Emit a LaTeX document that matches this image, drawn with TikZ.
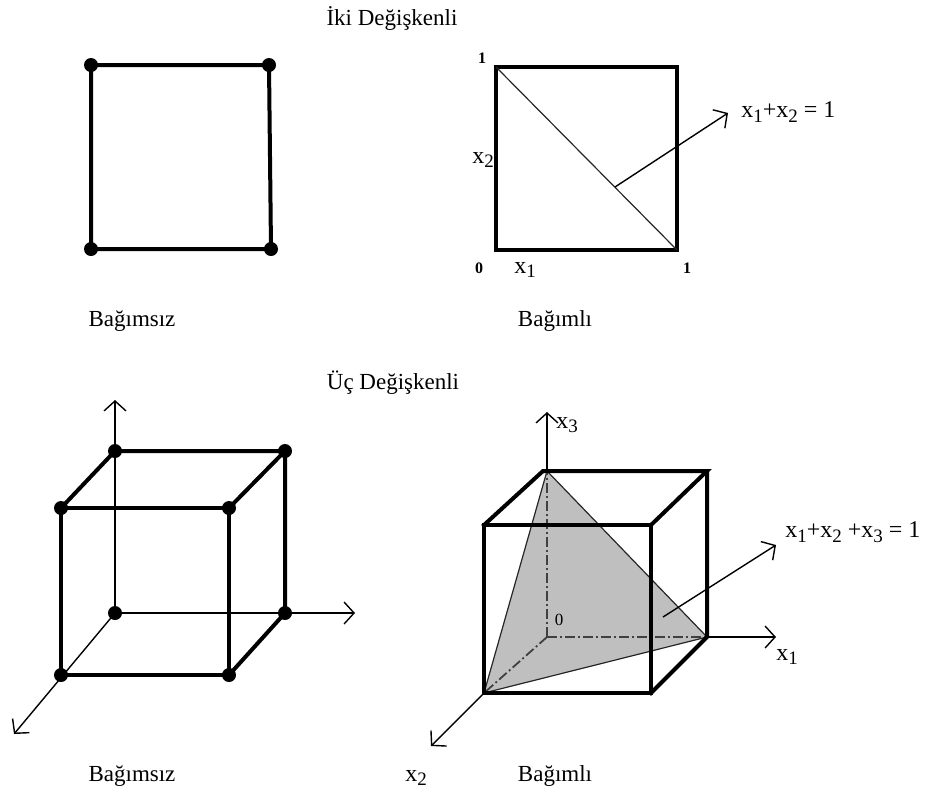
\documentclass[tikz,border=0pt]{standalone}
\usepackage{fontspec}
\setmainfont{Liberation Serif}
\usetikzlibrary{arrows.meta}
\newcommand\sbx[1]{\raisebox{-0.4ex}{\fontsize{9.5}{10}\selectfont #1}}
\begin{document}
\begin{tikzpicture}[x=0.5pt,y=-0.5pt,
 edge/.style={line width=2pt, line join=miter, line cap=rect},
 thin/.style={line width=0.6pt, draw=black!85},
 axis/.style={line width=0.7pt},
 arr/.style={-{Straight Barb[length=5pt,width=11pt,line width=0.7pt]}},
 dot/.style={circle,fill=black,inner sep=0pt,minimum size=7pt},
 lbl/.style={font=\fontsize{11.5}{13}\selectfont, inner sep=0pt},
 eqs/.style={font=\fontsize{12}{13}\selectfont, inner sep=0pt},
 num/.style={font=\fontsize{8}{9}\selectfont\bfseries, inner sep=0pt},
 dd/.style={line width=0.9pt, draw=black!75, dash pattern=on 5pt off 1.5pt on 1pt off 1.5pt}]
\useasboundingbox (0,0) rectangle (931,799);

% ---------- titles ----------
\node[lbl] (t1) at (392,18) {İki Değişkenli};
\node[lbl] (t2) at (393,383) {Üç Değişkenli};

% ---------- top-left square ----------
\node[dot] (a1) at (91,65) {};
\node[dot] (a2) at (269,65) {};
\node[dot] (a3) at (271,249) {};
\node[dot] (a4) at (91,249) {};
\draw[edge] (a1.center) -- (a2.center) -- (a3.center) -- (a4.center) -- cycle;
\node[lbl] (l1) at (132,321) {Bağımsız};

% ---------- top-right square ----------
\coordinate (b1) at (496,67);
\coordinate (b2) at (677,67);
\coordinate (b3) at (677,250);
\coordinate (b4) at (496,250);
\draw[edge] (b1) -- (b2) -- (b3) -- (b4) -- cycle;
\draw[thin] (b1) -- (b3);
\coordinate (bs) at (615,187);
\coordinate (be) at (728,113);
\draw[axis,arr] (bs) -- (be);
\node[eqs, anchor=west] (eq2) at (741,112) {x\sbx{1}+x\sbx{2} = 1};
\node[num] (n1a) at (482,58) {1};
\node[num] (n0a) at (479,268) {0};
\node[num] (n1b) at (687,268) {1};
\node[eqs] (x2a) at (483,160) {x\sbx{2}};
\node[eqs] (x1a) at (525,270) {x\sbx{1}};
\node[lbl] (l2) at (555,321) {Bağımlı};

% ---------- bottom-left cube ----------
\coordinate (o) at (115,613);
\coordinate (ztip) at (115,400);
\coordinate (xtip) at (355,613);
\coordinate (ytip) at (14,734);
\draw[axis,arr] (o) -- (ztip);
\draw[axis,arr] (o) -- (xtip);
\draw[axis,arr] (o) -- (ytip);
\node[dot] (c1) at (115,451) {};
\node[dot] (c2) at (285,451) {};
\node[dot] (c3) at (61,508) {};
\node[dot] (c4) at (229,508) {};
\node[dot] (c5) at (115,613) {};
\node[dot] (c6) at (285,613) {};
\node[dot] (c7) at (61,675) {};
\node[dot] (c8) at (229,675) {};
\draw[edge] (c3.center) -- (c4.center) -- (c8.center) -- (c7.center) -- cycle;
\draw[edge] (c3.center) -- (c1.center) -- (c2.center) -- (c4.center);
\draw[edge] (c2.center) -- (c6.center) -- (c8.center);
\node[lbl] (l3) at (132,776) {Bağımsız};

% ---------- bottom-right cube ----------
\coordinate (O) at (547,637);
\coordinate (P3) at (547,471);
\coordinate (P1) at (707,637);
\coordinate (P2) at (484,693);
\coordinate (FTL) at (484,525);
\coordinate (FTR) at (651,525);
\coordinate (FBR) at (651,693);
\coordinate (BTR) at (707,471);
\coordinate (BTL) at (543,471);
\fill[black!25] (P3) -- (P1) -- (P2) -- cycle;
\draw[thin] (P3) -- (P1) -- (P2) -- cycle;
\draw[dd] (O) -- (P3);
\draw[dd] (O) -- (P1);
\draw[dd] (O) -- (P2);
\draw[axis,arr] (P3) -- (547,412);
\draw[axis,arr] (P1) -- (776,637);
\draw[axis,arr] (P2) -- (431,746);
\draw[edge] (FTL) -- (FTR) -- (FBR) -- (P2) -- cycle;
\draw[edge] (FTL) -- (BTL) -- (BTR) -- (FTR);
\draw[edge] (BTR) -- (P1) -- (FBR);
\coordinate (ts) at (663,617);
\coordinate (te) at (776,545);
\draw[axis,arr] (ts) -- (te);
\node[eqs, anchor=west] (eq3) at (785,532) {x\sbx{1}+x\sbx{2} +x\sbx{3} = 1};
\node[eqs] (x3b) at (567,425) {x\sbx{3}};
\node[num, font=\fontsize{8.5}{9}\selectfont] (n0b) at (559,620) {0};
\node[eqs] (x1b) at (787,657) {x\sbx{1}};
\node[eqs] (x2b) at (416,778) {x\sbx{2}};
\node[lbl] (l4) at (555,776) {Bağımlı};
\end{tikzpicture}
\end{document}
